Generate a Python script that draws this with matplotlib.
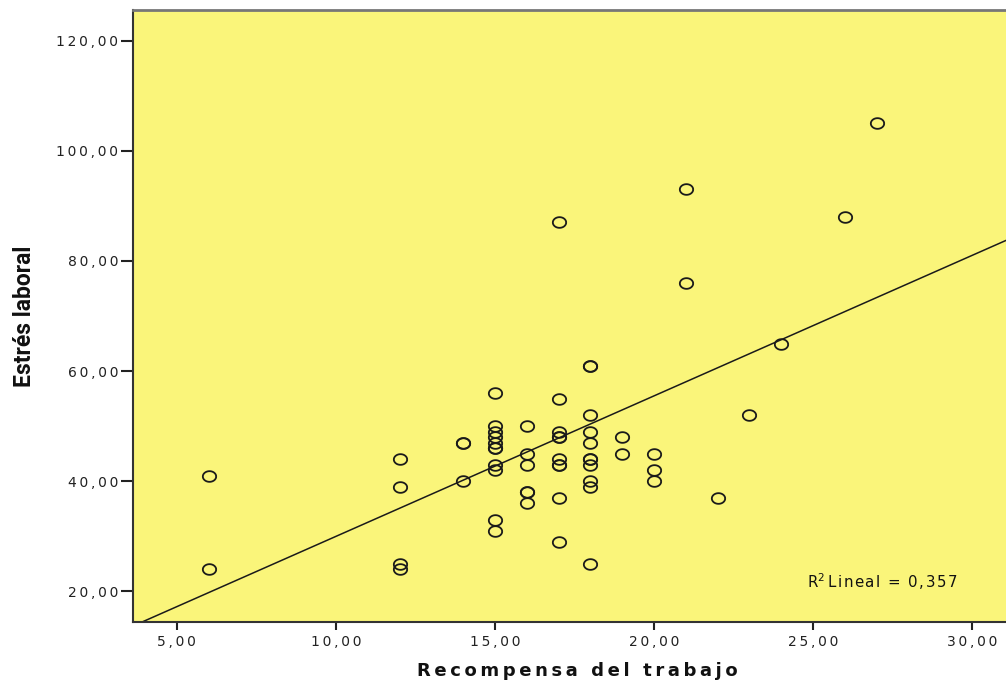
import numpy as np
import matplotlib
matplotlib.use("Agg")
import matplotlib.pyplot as plt
from matplotlib.path import Path

recompensa = [6, 6,
              12, 12, 12, 12,
              14, 14, 14,
              15, 15, 15, 15, 15, 15, 15, 15, 15, 15, 15,
              16, 16, 16, 16, 16, 16,
              17, 17, 17, 17, 17, 17, 17, 17, 17, 17,
              18, 18, 18, 18, 18, 18, 18, 18, 18, 18, 18,
              19, 19,
              20, 20, 20,
              21, 21, 22, 23, 24, 26, 27]
estres = [41, 24,
          44, 39, 25, 24,
          47, 47, 40,
          56, 50, 49, 48, 47, 46, 46, 43, 42, 33, 31,
          50, 45, 43, 38, 38, 36,
          87, 55, 49, 48, 48, 44, 43, 43, 37, 29,
          61, 61, 52, 49, 47, 44, 44, 43, 40, 39, 25,
          48, 45,
          45, 42, 40,
          93, 76, 37, 52, 65, 88, 105]
xticks = [5, 10, 15, 20, 25, 30]
yticks = [20, 40, 60, 80, 100, 120]
r2_label = "Lineal = 0,357"
x_title = "Recompensa del trabajo"
y_title = "Estrés laboral"

plt.rcParams['font.family'] = ['DejaVu Sans']


def spaced(s, sp):
    return sp.join(list(s))


def fmt(v):
    return spaced(f"{v:.2f}".replace('.', ','), '\u2009')


fig = plt.figure(figsize=(10.06, 6.89), dpi=100)
ax = fig.add_axes([133/1006, 1-622/689, 1-133/1006, (622-10)/689])
ax.set_facecolor('#FAF57A')

t = np.linspace(0, 2*np.pi, 60)
ell = Path(np.column_stack([np.cos(t), 0.8*np.sin(t)]))

ax.plot(recompensa, estres, linestyle='none', marker=ell, markersize=9.6,
        markerfacecolor='none', markeredgecolor='#1a1a1a', markeredgewidth=1.3)

xlim = (3.62, 31.07)
ylim = (14.4, 125.6)
b, a = np.polyfit(recompensa, estres, 1)
xs = np.array(xlim)
ax.plot(xs, a + b*xs, color='#1a1a1a', linewidth=1.1)

ax.set_xlim(*xlim)
ax.set_ylim(*ylim)
ax.set_xticks(xticks)
ax.set_yticks(yticks)
ax.set_xticklabels([fmt(v) for v in xticks])
ax.set_yticklabels([fmt(v) for v in yticks])
ax.tick_params(direction='out', width=1.5, labelsize=10, colors='#222222')
ax.tick_params(axis='x', length=6, pad=3)
ax.tick_params(axis='y', length=8.5, pad=2)
for s in ax.spines.values():
    s.set_color('#333333')
    s.set_linewidth(1.5)
ax.spines['right'].set_visible(False)
ax.spines['top'].set_color('#777777')
ax.spines['top'].set_linewidth(2)

ax.text(0.772, 0.0556, "R$^2$\u2009" + spaced(r2_label, '\u200a'), transform=ax.transAxes,
        fontsize=10.8, color='#111111', va='baseline')

ax.set_xlabel(spaced(x_title, '\u2009'), fontsize=13, fontweight='bold', color='#111111')
ax.xaxis.set_label_coords(0.5086, -0.066)
ax.set_ylabel(y_title, fontsize=16.5, fontweight='bold', color='#111111',
              family=['Roboto', 'DejaVu Sans'])
ax.yaxis.set_label_coords(-0.111, 0.5)

fig.savefig("out.png", dpi=100)
